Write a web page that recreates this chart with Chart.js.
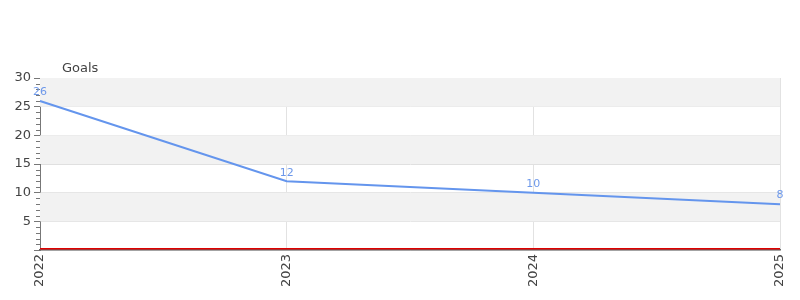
<!DOCTYPE html>
<html>
<head>
    <meta charset="UTF-8">
    <title>Goals</title>
    <script src="https://cdn.jsdelivr.net/npm/chart.js@4.4.0/dist/chart.umd.min.js"></script>
    <style>
        html, body { margin: 0; padding: 0; background: #fff; }
        #wrap { width: 800px; height: 300px; }
    </style>
</head>
<body>
    <div id="wrap"><canvas id="chart"></canvas></div>

    <script>
        var years = ['2022', '2023', '2024', '2025'];
        var goals = [26, 12, 10, 8];
        var yTicks = [5, 10, 15, 20, 25, 30];

        var font = "'DejaVu Sans', sans-serif";

        // grey bands, minor ticks, red zero line, point labels, title
        var extras = {
            id: 'extras',
            beforeDatasetsDraw: function (chart) {
                var ctx = chart.ctx, a = chart.chartArea, y = chart.scales.y;
                ctx.save();
                ctx.fillStyle = '#f2f2f2';
                for (var v = 5; v < 30; v += 10) {
                    var t = y.getPixelForValue(v + 5), b = y.getPixelForValue(v);
                    ctx.fillRect(a.left, t, a.right - a.left, b - t);
                }
                ctx.restore();
            },
            afterDatasetsDraw: function (chart) {
                var ctx = chart.ctx, a = chart.chartArea, y = chart.scales.y;
                ctx.save();
                // minor ticks
                ctx.strokeStyle = '#777';
                ctx.lineWidth = 1;
                ctx.beginPath();
                for (var v = 1; v < 30; v++) {
                    if (v % 5 === 0) continue;
                    var py = Math.round(y.getPixelForValue(v)) + 0.5;
                    ctx.moveTo(a.left - 4, py);
                    ctx.lineTo(a.left, py);
                }
                ctx.stroke();
                // red zero line
                var y0 = Math.round(y.getPixelForValue(0));
                ctx.fillStyle = '#e00000';
                ctx.fillRect(a.left, y0 - 2, a.right - a.left, 1.5);
                // point labels
                var meta = chart.getDatasetMeta(0);
                ctx.font = '11px ' + font;
                ctx.fillStyle = '#6d98ea';
                ctx.textAlign = 'center';
                ctx.textBaseline = 'bottom';
                meta.data.forEach(function (p, i) {
                    ctx.fillText(String(goals[i]), p.x, p.y - 3);
                });
                // title
                ctx.font = '13px ' + font;
                ctx.fillStyle = '#444';
                ctx.textAlign = 'left';
                ctx.textBaseline = 'alphabetic';
                ctx.fillText('Goals', a.left + 22, a.top - 6);
                ctx.restore();
            }
        };

        var ctx = document.getElementById('chart').getContext('2d');
        var chart = new Chart(ctx, {
            type: 'line',
            data: {
                labels: years,
                datasets: [{
                    label: 'Goals',
                    data: goals,
                    borderColor: '#6495ed',
                    borderWidth: 2,
                    pointRadius: 0,
                    fill: false,
                    tension: 0
                }]
            },
            options: {
                responsive: true,
                maintainAspectRatio: false,
                animation: false,
                layout: { padding: { top: 78, right: 20, bottom: 0, left: 0 } },
                plugins: {
                    legend: { display: false },
                    tooltip: { enabled: false }
                },
                scales: {
                    x: {
                        offset: false,
                        grid: { color: '#e2e2e2', drawTicks: false },
                        border: { color: '#666', width: 1.5 },
                        ticks: {
                            color: '#444',
                            font: { family: font, size: 13 },
                            maxRotation: 90,
                            minRotation: 90,
                            padding: 4
                        },
                        afterFit: function (s) { s.height = 50; }
                    },
                    y: {
                        min: 0,
                        max: 30,
                        afterBuildTicks: function (s) {
                            s.ticks = [0].concat(yTicks).map(function (v) { return { value: v }; });
                        },
                        grid: { color: '#e0e0e0', tickLength: 6, tickColor: '#777' },
                        border: { color: '#777', width: 1 },
                        ticks: {
                            color: '#444',
                            font: { family: font, size: 13 },
                            padding: 3,
                            callback: function (v) { return v === 0 ? '' : v; }
                        },
                        afterFit: function (s) { s.width = 40; }
                    }
                }
            },
            plugins: [extras]
        });
    </script>
</body>
</html>
